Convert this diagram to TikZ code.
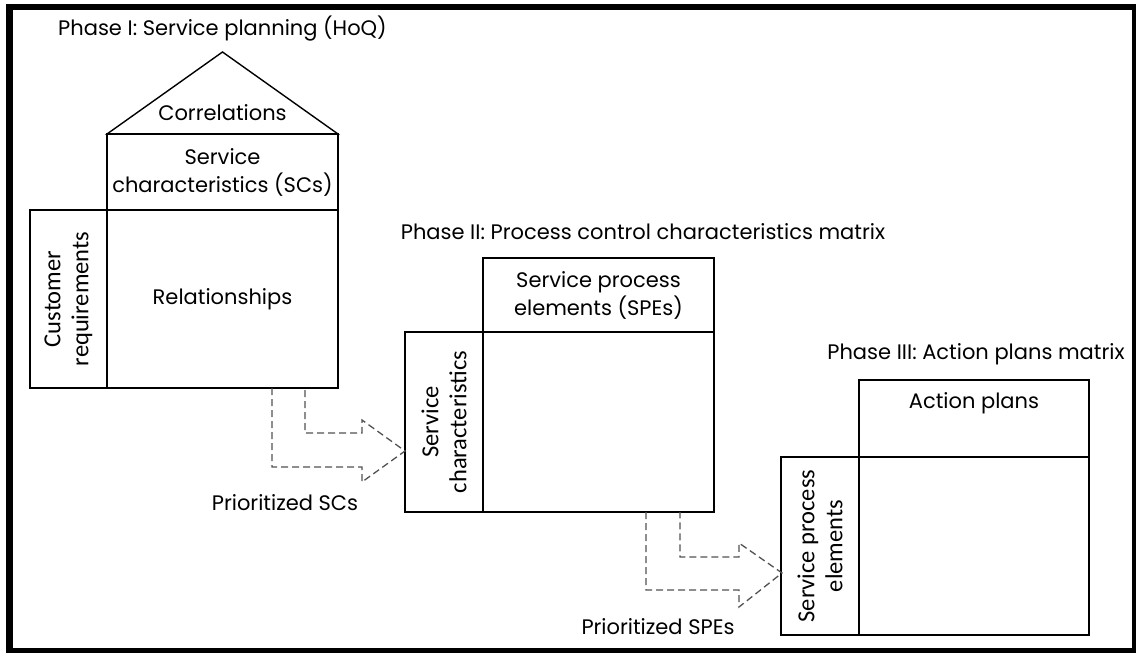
\documentclass[tikz,border=0pt]{standalone}
\usepackage{fontspec}
\setmainfont{Poppins}
\newfontfamily\sidefont{Carlito}
\usetikzlibrary{positioning}
\begin{document}
\begin{tikzpicture}[x=1pt, y=-1pt,
                    align=center,
                    every node/.style={text centered, font=\fontsize{21}{28}\selectfont},
                    box/.style={draw, line width=1.4pt, inner sep=0pt},
                    sidebox/.style={box, rotate=90, font=\sidefont\fontsize{24.5}{28}\selectfont},
                    flow/.style={draw=black!68, line width=1.3pt, dash pattern=on 7pt off 4pt}]
  \useasboundingbox (0,0) rectangle (1136,653);
  \draw[line width=6.5pt] (9.5,7) rectangle (1135,651);
  \coordinate (roof_left) at (107, 134);
  \coordinate (roof_top) at (222.5, 52);
  \coordinate (roof_right) at (338, 134);
  \node (phase_one) at (222.5, 29) {Phase I: Service planning (HoQ)};
  \draw[line width=1.4pt] (roof_left) -- (roof_top) -- (roof_right) -- cycle;
  \node (correlations) at (222.5, 113) {Correlations};
  \node[box, minimum width=231pt, minimum height=76pt] (sc_head) at (222.5, 172) {Service\\characteristics (SCs)};
  \node[sidebox, minimum width=178pt, minimum height=77pt] (cr_side) at (68.5, 299) {Customer\\requirements};
  \node[box, minimum width=231pt, minimum height=178pt] (rel_body) at (222.5, 299) {Relationships};
  \node (phase_two) at (643, 232) {Phase II: Process control characteristics matrix};
  \node[box, minimum width=231pt, minimum height=74pt] (spe_head) at (598.5, 295) {Service process\\elements (SPEs)};
  \node[sidebox, minimum width=180pt, minimum height=78pt] (sc_side) at (444, 422) {Service\\characteristics};
  \node[box, minimum width=231pt, minimum height=180pt] (pc_body) at (598.5, 422) {};
  \node (phase_three) at (976, 354) {Phase III: Action plans matrix};
  \node[box, minimum width=230pt, minimum height=77pt] (ap_head) at (974, 418.5) {};
  \node (action_plans) at (974, 403) {Action plans};
  \node[sidebox, minimum width=178pt, minimum height=78pt] (spe_side) at (820, 546) {Service process\\elements};
  \node[box, minimum width=230pt, minimum height=178pt] (ap_body) at (974, 546) {};
  \coordinate (a_outer) at (272, 388);
  \coordinate (a_inner) at (305, 388);
  \coordinate (a_tip) at (405, 451);
  \draw[flow] (a_outer) -- (272, 467) -- (362, 467) -- (362, 482) -- (a_tip)
              -- (362, 420) -- (362, 433) -- (305, 433) -- (a_inner);
  \node (prio_sc) at (285, 503) {Prioritized SCs};
  \coordinate (b_outer) at (646, 512);
  \coordinate (b_inner) at (680, 512);
  \coordinate (b_tip) at (782, 573);
  \draw[flow] (b_outer) -- (646, 590) -- (739, 590) -- (739, 607) -- (b_tip)
              -- (739, 543) -- (739, 557) -- (680, 557) -- (b_inner);
  \node (prio_spe) at (658, 627) {Prioritized SPEs};
\end{tikzpicture}
\end{document}
